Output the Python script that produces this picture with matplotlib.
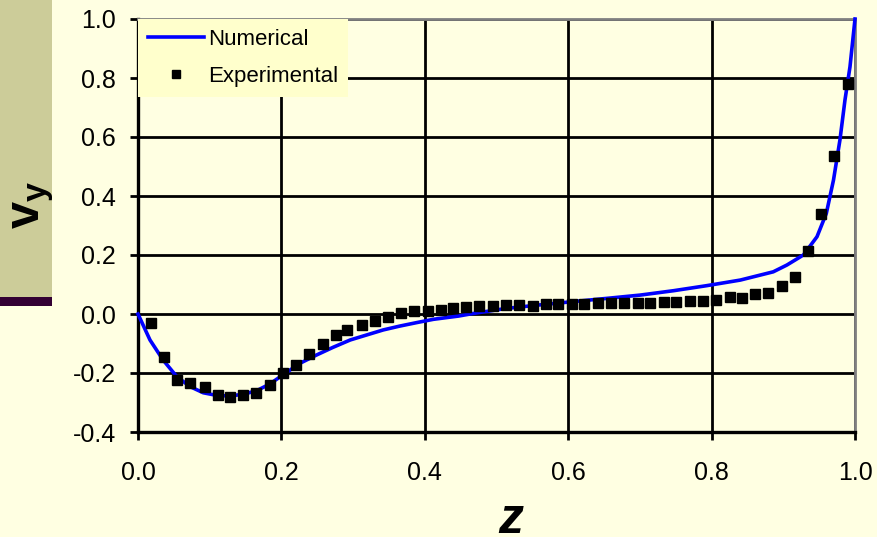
import matplotlib
matplotlib.use("Agg")
import matplotlib.pyplot as plt
from matplotlib.patches import Rectangle

# ---- data ----
z_num = [0.0, 0.0167, 0.035, 0.054, 0.0725, 0.091, 0.11, 0.128, 0.147, 0.1655,
         0.184, 0.2018, 0.226, 0.249, 0.272, 0.296, 0.319, 0.342, 0.365, 0.389,
         0.412, 0.447, 0.468, 0.514, 0.561, 0.607, 0.654, 0.700, 0.747, 0.793,
         0.840, 0.886, 0.905, 0.928, 0.947, 0.960, 0.970, 0.979, 0.986, 0.993, 1.0]
v_num = [0.0, -0.088, -0.156, -0.212, -0.246, -0.267, -0.276, -0.278, -0.272, -0.26,
         -0.237, -0.207, -0.167, -0.139, -0.113, -0.088, -0.071, -0.054, -0.041, -0.029,
         -0.018, -0.007, 0.002, 0.019, 0.031, 0.042, 0.053, 0.064, 0.079, 0.096,
         0.115, 0.143, 0.166, 0.2, 0.262, 0.341, 0.454, 0.59, 0.725, 0.838, 1.0]

z_exp = [0.018, 0.0367, 0.054, 0.0725, 0.0931, 0.111, 0.129, 0.146, 0.1646, 0.184,
         0.202, 0.220, 0.238, 0.2576, 0.2757, 0.292, 0.3127, 0.330, 0.348, 0.367,
         0.385, 0.404, 0.422, 0.440, 0.4575, 0.476, 0.4947, 0.513, 0.532, 0.5505,
         0.569, 0.586, 0.605, 0.622, 0.641, 0.660, 0.678, 0.697, 0.714, 0.733,
         0.751, 0.770, 0.7876, 0.806, 0.825, 0.843, 0.861, 0.879, 0.898, 0.916,
         0.934, 0.9526, 0.971, 0.990]
v_exp = [-0.032, -0.147, -0.225, -0.233, -0.247, -0.275, -0.281, -0.275, -0.267, -0.241,
         -0.201, -0.173, -0.136, -0.102, -0.071, -0.054, -0.037, -0.023, -0.009, 0.004,
         0.010, 0.011, 0.014, 0.019, 0.025, 0.027, 0.027, 0.029, 0.029, 0.027,
         0.035, 0.035, 0.035, 0.035, 0.038, 0.038, 0.038, 0.038, 0.038, 0.041,
         0.041, 0.044, 0.044, 0.046, 0.058, 0.055, 0.067, 0.072, 0.095, 0.124,
         0.214, 0.338, 0.536, 0.779]

x_ticks = [0.0, 0.2, 0.4, 0.6, 0.8, 1.0]
y_ticks = [-0.4, -0.2, 0.0, 0.2, 0.4, 0.6, 0.8, 1.0]
x_ticklabels = ["0.0", "0.2", "0.4", "0.6", "0.8", "1.0"]
y_ticklabels = ["-0.4", "-0.2", "0.0", "0.2", "0.4", "0.6", "0.8", "1.0"]

BG = "#FFFFE2"
LEG_BG = "#FFFFCC"

plt.rcParams['font.family'] = ['Liberation Sans', 'DejaVu Sans']
plt.rcParams['mathtext.fontset'] = 'custom'
plt.rcParams['mathtext.rm'] = 'Liberation Sans'
plt.rcParams['mathtext.bf'] = 'Liberation Sans:bold'
plt.rcParams['mathtext.it'] = 'Liberation Sans:italic'

fig = plt.figure(figsize=(8.77, 5.37), dpi=100, facecolor=BG)

# decorative left band
fig.patches.append(Rectangle((0, 1 - 297/537), 52/877, 297/537,
                             transform=fig.transFigure, facecolor="#CCCC99",
                             edgecolor="none", zorder=0))
fig.patches.append(Rectangle((0, 1 - 306/537), 52/877, 9/537,
                             transform=fig.transFigure, facecolor="#330033",
                             edgecolor="none", zorder=0))

ax = fig.add_axes([138/877, 1 - 432/537, (855 - 138)/877, (432 - 19)/537])
ax.set_facecolor(BG)

ax.set_xlim(0, 1)
ax.set_ylim(-0.4, 1.0)
ax.set_xticks(x_ticks)
ax.set_yticks(y_ticks)
ax.set_xticklabels(x_ticklabels)
ax.set_yticklabels(y_ticklabels)

ax.grid(True, color="black", linewidth=2.0, zorder=1)
ax.set_axisbelow(True)

ax.plot(z_num, v_num, color="#0000FF", linewidth=2.6, label="Numerical", zorder=3,
        clip_on=False)
ax.plot(z_exp, v_exp, linestyle="none", marker="s", markersize=7.5,
        color="black", label="Experimental", zorder=4)

for s in ["left", "bottom"]:
    ax.spines[s].set_color("black")
    ax.spines[s].set_linewidth(2.4)
for s in ["top", "right"]:
    ax.spines[s].set_color("#808080")
    ax.spines[s].set_linewidth(2)

ax.tick_params(axis="both", direction="out", length=6, width=2.0, color="black",
               labelsize=18)
ax.tick_params(axis="y", pad=10)
ax.tick_params(axis="x", pad=15)

leg = ax.legend(loc="upper left", frameon=True, fancybox=False, fontsize=16,
                borderaxespad=0.0, handlelength=2.5, handletextpad=0.2,
                borderpad=0.45, labelspacing=0.7, markerscale=0.75)
leg.get_frame().set_facecolor(LEG_BG)
leg.get_frame().set_edgecolor("none")
leg.get_frame().set_alpha(1)

fig.text(511/877, 1 - 520/537, "z", fontsize=36, fontweight="bold",
         fontstyle="italic", ha="center", va="center")
fig.text(33/877, 1 - 205/537, r"$\mathbf{v}_{\mathbf{y}}$", fontsize=35,
         rotation=90, ha="center", va="center")

fig.savefig("out.png", dpi=100, facecolor=BG)
